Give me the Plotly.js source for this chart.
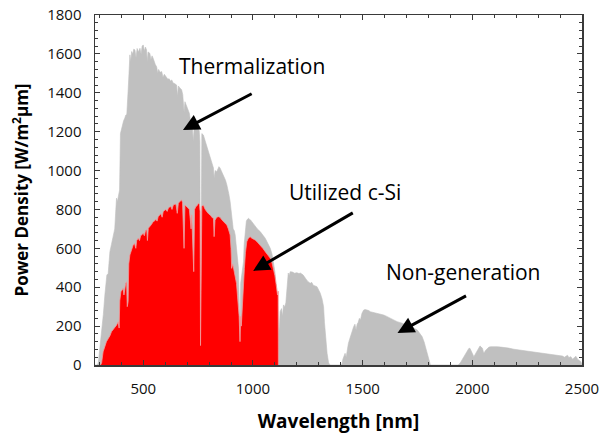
<!DOCTYPE html>
<html>
<head>
<meta charset="utf-8">
<script src="https://cdn.plot.ly/plotly-3.0.1.min.js"></script>
<style>
  html, body { margin: 0; padding: 0; background: #fff; }
  #chart { width: 602px; height: 434px; }
</style>
</head>
<body>
<div id="chart"></div>
<script>
// AM1.5 solar spectrum (W/m^2/um) versus wavelength (nm)
const wlTotal = [
  280, 290, 295, 300, 305, 310, 318, 325, 334, 340, 345, 348, 355, 363, 370, 375, 378, 382, 386, 392,
  396, 400, 405, 410, 416, 420, 425, 428, 431, 435, 439, 443, 447, 452, 457, 462, 467, 472, 478, 485,
  490, 495, 500, 505, 510, 515, 518, 522, 530, 535, 540, 545, 550, 555, 561, 566, 570, 577, 584, 590,
  596, 602, 607, 612, 618, 624, 630, 636, 642, 647, 652, 656, 660, 667, 672, 675, 680, 686, 690, 695,
  700, 705, 710, 716, 721, 725, 728, 732, 738, 744, 750, 755, 758, 761, 764, 767, 774, 780, 789, 795,
  800, 805, 810, 815, 820, 823, 828, 835, 840, 845, 850, 855, 860, 865, 870, 875, 881, 885, 890, 896,
  900, 903, 906, 910, 915, 919, 925, 930, 934, 937, 941, 944, 949, 953, 957, 960, 964, 970, 975, 980,
  985, 990, 995, 1000, 1005, 1010, 1020, 1033, 1045, 1056, 1068, 1079, 1087, 1094, 1100, 1105, 1109, 1113, 1117, 1121,
  1124, 1130, 1135, 1139, 1145, 1150, 1155, 1161, 1165, 1170, 1180, 1190, 1200, 1210, 1216, 1229, 1240, 1250, 1261, 1268,
  1275, 1285, 1292, 1300, 1307, 1315, 1322, 1326, 1330, 1338, 1345, 1352, 1400, 1406, 1410, 1413, 1420, 1425, 1429, 1435,
  1440, 1444, 1450, 1455, 1459, 1465, 1470, 1475, 1480, 1485, 1490, 1497, 1505, 1512, 1520, 1528, 1535, 1550, 1566, 1580,
  1596, 1610, 1627, 1640, 1657, 1680, 1703, 1725, 1749, 1760, 1771, 1780, 1787, 1795, 1802, 1809, 1935, 1945, 1955, 1962,
  1970, 1978, 1984, 1989, 1995, 2000, 2007, 2015, 2023, 2030, 2035, 2041, 2046, 2050, 2053, 2060, 2068, 2076, 2084, 2100,
  2114, 2130, 2144, 2165, 2190, 2210, 2236, 2260, 2281, 2305, 2327, 2350, 2373, 2390, 2411, 2420, 2426, 2434, 2440, 2449,
  2457, 2464, 2472, 2480, 2488, 2495, 2500
];
const pTotal = [
  0, 0, 10, 60, 110, 154, 260, 360, 463, 470, 560, 583, 620, 669, 700, 800, 858, 840, 870, 900,
  1190, 1210, 1240, 1255, 1270, 1285, 1290, 1330, 1410, 1500, 1595, 1560, 1612, 1600, 1625, 1620, 1580, 1628, 1610, 1629,
  1600, 1640, 1646, 1615, 1635, 1620, 1560, 1610, 1603, 1570, 1590, 1578, 1560, 1545, 1534, 1500, 1520, 1505, 1509, 1480,
  1495, 1485, 1483, 1470, 1472, 1460, 1466, 1450, 1448, 1445, 1440, 1380, 1435, 1425, 1418, 1415, 1390, 1300, 1354, 1340,
  1325, 1312, 1295, 1250, 1260, 1200, 1149, 1220, 1225, 1218, 1215, 1205, 1150, 103, 500, 1190, 1183, 1160, 1132, 1110,
  1090, 1065, 1040, 1025, 1013, 960, 1000, 994, 1005, 1020, 1013, 1000, 990, 977, 965, 950, 926, 910, 880, 840,
  800, 760, 737, 700, 690, 669, 600, 530, 497, 350, 154, 420, 463, 520, 531, 620, 669, 740, 750, 755,
  748, 745, 737, 730, 720, 711, 700, 686, 670, 652, 625, 600, 570, 531, 480, 420, 394, 280, 154, 200,
  274, 290, 250, 309, 300, 320, 400, 473, 460, 480, 478, 472, 475, 470, 473, 463, 445, 430, 420, 425,
  410, 405, 403, 385, 369, 340, 300, 220, 146, 60, 10, 0, 0, 5, 30, 43, 60, 40, 77, 110,
  130, 144, 170, 190, 197, 210, 180, 210, 220, 240, 231, 266, 283, 285, 283, 280, 274, 270, 266, 262,
  257, 250, 240, 232, 223, 215, 206, 195, 180, 165, 146, 120, 94, 55, 26, 0, 0, 10, 30, 43,
  65, 77, 85, 86, 75, 60, 43, 60, 77, 95, 98, 92, 86, 70, 60, 75, 85, 92, 94, 95,
  94, 92, 91, 87, 81, 78, 74, 71, 69, 64, 60, 57, 55, 50, 46, 40, 43, 50, 38, 43,
  30, 38, 45, 30, 20, 17, 0
];

// Part of the spectrum converted by crystalline silicon (Eg ~ 1.12 eV)
const wlUsed = [
  305, 310, 317, 325, 332, 340, 348, 355, 362, 370, 378, 386, 390, 393, 398, 403, 408, 412, 416, 420,
  424, 427, 431, 434, 439, 445, 450, 454, 460, 466, 470, 477, 483, 488, 494, 500, 505, 510, 516, 519,
  523, 530, 537, 545, 551, 557, 563, 568, 574, 580, 586, 591, 597, 603, 609, 614, 620, 626, 631, 637,
  643, 649, 655, 660, 666, 672, 675, 679, 686, 690, 695, 700, 705, 710, 715, 718, 721, 726, 730, 734,
  740, 746, 751, 756, 759, 761, 764, 767, 774, 780, 789, 795, 800, 805, 810, 815, 820, 823, 827, 835,
  842, 850, 857, 865, 872, 881, 888, 896, 900, 903, 908, 914, 919, 925, 930, 934, 937, 941, 944, 947,
  952, 956, 961, 966, 972, 978, 987, 995, 1002, 1010, 1020, 1033, 1045, 1056, 1068, 1079, 1087, 1094, 1100, 1105,
  1109, 1112, 1115, 1116
];
const pUsed = [
  0, 10, 68, 100, 120, 135, 150, 171, 180, 189, 205, 223, 190, 330, 377, 385, 394, 360, 410, 420,
  428, 300, 326, 520, 566, 590, 605, 617, 625, 600, 640, 652, 640, 665, 670, 677, 665, 690, 695, 640,
  703, 710, 722, 737, 740, 750, 740, 763, 770, 778, 760, 789, 795, 800, 790, 806, 812, 815, 800, 823,
  826, 828, 780, 832, 840, 846, 849, 835, 600, 823, 815, 812, 806, 800, 740, 700, 772, 650, 480, 800,
  815, 820, 832, 825, 790, 100, 450, 815, 823, 805, 789, 780, 775, 772, 760, 757, 755, 660, 745, 760,
  763, 760, 748, 737, 730, 720, 700, 669, 600, 497, 520, 480, 463, 420, 350, 309, 250, 120, 250, 200,
  326, 420, 497, 580, 634, 650, 660, 652, 648, 643, 632, 617, 600, 583, 567, 549, 525, 497, 460, 420,
  394, 360, 380, 0
];

const xTickVals = [500, 1000, 1500, 2000, 2500];
const yTickVals = [0, 200, 400, 600, 800, 1000, 1200, 1400, 1600, 1800];

const FONT = '"Open Sans", "Noto Sans", sans-serif';
const AXIS_COLOR = '#3a3a3a';

const traces = [
  {
    x: wlTotal, y: pTotal, type: 'scatter', mode: 'lines',
    fill: 'tozeroy', fillcolor: '#c0c0c0',
    line: { color: '#c0c0c0', width: 0.6 },
    hoverinfo: 'skip', showlegend: false
  },
  {
    x: wlUsed, y: pUsed, type: 'scatter', mode: 'lines',
    fill: 'tozeroy', fillcolor: '#ff0000',
    line: { color: '#f39a9a', width: 0.8 },
    hoverinfo: 'skip', showlegend: false
  }
];

function arrow(x, y, ax, ay) {
  return {
    x: x, y: y, ax: ax, ay: ay, xref: 'x', yref: 'y', axref: 'x', ayref: 'y',
    text: '', showarrow: true, arrowhead: 2, arrowsize: 1.1, arrowwidth: 3,
    arrowcolor: '#000', standoff: 0, startstandoff: 0
  };
}
function label(x, y, text) {
  return {
    x: x, y: y, xref: 'x', yref: 'y', text: text, showarrow: false,
    font: { family: FONT, size: 21, color: '#000' }, xanchor: 'center', yanchor: 'middle'
  };
}

const layout = {
  width: 602, height: 434,
  margin: { l: 95, r: 20, t: 15, b: 69, pad: 0 },
  paper_bgcolor: '#ffffff', plot_bgcolor: '#ffffff',
  font: { family: FONT, color: '#111' },
  xaxis: {
    range: [280, 2500], tickvals: xTickVals, ticktext: xTickVals.map(String),
    ticks: 'inside', ticklen: 5, tickwidth: 1, tickcolor: AXIS_COLOR,
    minor: { dtick: 100, tick0: 0, ticks: 'inside', ticklen: 3, tickcolor: AXIS_COLOR, showgrid: false },
    showline: true, linecolor: AXIS_COLOR, linewidth: 1.5, mirror: 'allticks',
    showgrid: false, zeroline: false,
    tickfont: { family: FONT, size: 15, color: '#111' }, ticklabelstandoff: 9,
    title: { text: '<b>Wavelength [nm]</b>', font: { family: FONT, size: 19, color: '#000' }, standoff: 18 }
  },
  yaxis: {
    range: [0, 1800], tickvals: yTickVals, ticktext: yTickVals.map(String),
    ticks: 'inside', ticklen: 5, tickwidth: 1, tickcolor: AXIS_COLOR,
    minor: { dtick: 40, tick0: 0, ticks: 'inside', ticklen: 3, tickcolor: AXIS_COLOR, showgrid: false },
    showline: true, linecolor: AXIS_COLOR, linewidth: 1.5, mirror: 'allticks',
    showgrid: false, zeroline: false,
    tickfont: { family: FONT, size: 15, color: '#111' }, ticklabelstandoff: 9,
    title: { text: '<b>Power Density [W/m<sup>2</sup>μm]</b>', font: { family: FONT, size: 17, color: '#000' }, standoff: 14 }
  },
  annotations: [
    label(996, 1538, 'Thermalization'),
    label(1421, 890, 'Utilized c-Si'),
    label(1960, 478, 'Non-generation'),
    arrow(681, 1209, 1001, 1399),
    arrow(1001, 484, 1462, 787),
    arrow(1659, 165, 1978, 360)
  ]
};

Plotly.newPlot('chart', traces, layout, { displayModeBar: false, staticPlot: true });
</script>
</body>
</html>
